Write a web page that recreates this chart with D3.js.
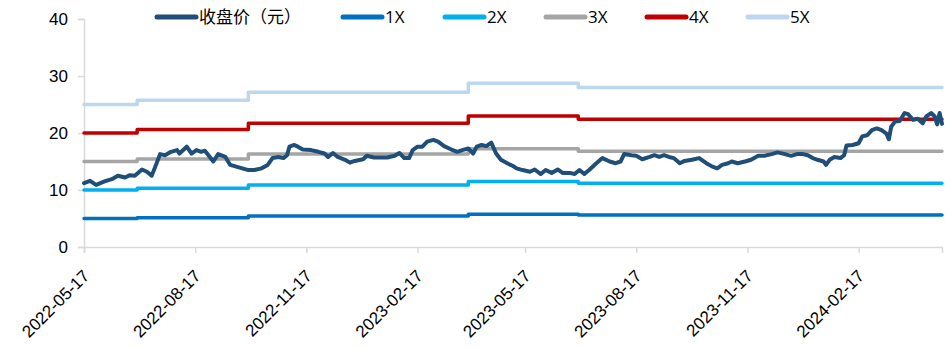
<!DOCTYPE html>
<html>
<head>
<meta charset="utf-8">
<script src="https://d3js.org/d3.v7.min.js"></script>
<style>
  body { margin: 0; background: #fff; }
  svg { display: block; font-family: "Open Sans", "Noto Sans CJK SC", sans-serif; }
</style>
</head>
<body>
<div id="chart"></div>
<script>
// closing price (yuan)
const priceDates = [
  "2022-05-17","2022-05-22","2022-05-27","2022-06-03","2022-06-09","2022-06-14","2022-06-20","2022-06-24","2022-06-28",
  "2022-07-04","2022-07-08","2022-07-12","2022-07-15","2022-07-19","2022-07-23","2022-07-28","2022-08-02","2022-08-04",
  "2022-08-10","2022-08-14","2022-08-18","2022-08-22","2022-08-25","2022-08-28","2022-09-01","2022-09-05","2022-09-11",
  "2022-09-15","2022-09-20","2022-09-25","2022-09-30","2022-10-05","2022-10-11","2022-10-16","2022-10-20","2022-10-25",
  "2022-10-29","2022-11-01","2022-11-03","2022-11-07","2022-11-10","2022-11-14","2022-11-21","2022-11-27","2022-12-02",
  "2022-12-05","2022-12-09","2022-12-13","2022-12-19","2022-12-23","2022-12-27","2023-01-03","2023-01-06","2023-01-12",
  "2023-01-18","2023-01-23","2023-01-29","2023-02-02","2023-02-06","2023-02-10","2023-02-13","2023-02-17","2023-02-21",
  "2023-02-25","2023-03-02","2023-03-06","2023-03-11","2023-03-17","2023-03-22","2023-03-26","2023-03-31","2023-04-04",
  "2023-04-07","2023-04-11","2023-04-15","2023-04-19","2023-04-23","2023-04-27","2023-05-03","2023-05-07","2023-05-10",
  "2023-05-15","2023-05-21","2023-05-25","2023-05-30","2023-06-03","2023-06-08","2023-06-13","2023-06-17","2023-06-23",
  "2023-06-27","2023-07-01","2023-07-05","2023-07-09","2023-07-15","2023-07-20","2023-07-26","2023-07-31","2023-08-04",
  "2023-08-07","2023-08-13","2023-08-17","2023-08-22","2023-08-28","2023-09-01","2023-09-05","2023-09-09","2023-09-13",
  "2023-09-17","2023-09-22","2023-09-26","2023-10-02","2023-10-08","2023-10-14","2023-10-19","2023-10-23","2023-10-27",
  "2023-11-01","2023-11-04","2023-11-09","2023-11-15","2023-11-20","2023-11-26","2023-12-01","2023-12-07","2023-12-12",
  "2023-12-18","2023-12-23","2023-12-28","2024-01-02","2024-01-06","2024-01-10","2024-01-14","2024-01-19","2024-01-21",
  "2024-01-24","2024-01-28","2024-02-02","2024-02-05","2024-02-07","2024-02-12","2024-02-17","2024-02-20","2024-02-24",
  "2024-02-28","2024-03-03","2024-03-07","2024-03-11","2024-03-13","2024-03-15","2024-03-18","2024-03-22","2024-03-26",
  "2024-03-29","2024-04-02","2024-04-06","2024-04-10","2024-04-13","2024-04-17","2024-04-20","2024-04-22","2024-04-24",
  "2024-04-26"
];
const priceValues = [
  11.2,11.6,10.9,11.5,11.9,12.5,12.2,12.6,12.5,
  13.6,13.2,12.5,14.1,16.3,16.1,16.7,17.0,16.4,
  17.6,16.4,17.0,16.7,16.9,16.1,15.0,16.3,15.8,
  14.4,14.1,13.8,13.5,13.5,13.8,14.4,15.6,15.8,
  15.6,16.1,17.6,17.9,17.6,17.1,17.0,16.7,16.4,
  15.8,16.5,15.8,15.3,14.8,15.1,15.4,16.0,15.7,
  15.7,15.7,16.0,16.5,15.6,15.6,17.0,17.6,17.6,
  18.5,18.8,18.5,17.7,17.1,16.7,17.0,17.3,16.4,
  17.6,17.9,17.7,18.3,16.4,15.3,14.6,14.2,13.8,
  13.5,13.2,13.6,12.8,13.5,13.0,13.6,13.0,13.0,
  12.8,13.5,12.8,13.5,14.7,15.6,15.0,14.7,15.0,
  16.3,16.1,16.0,15.4,15.8,16.1,15.8,16.1,15.8,
  15.6,14.7,15.1,15.3,15.6,14.7,14.1,13.8,14.4,
  14.7,15.0,14.7,15.0,15.3,16.0,16.0,16.3,16.6,
  16.3,16.0,16.3,16.3,16.1,15.6,15.3,15.0,14.4,
  15.3,15.8,15.6,16.1,17.8,17.9,18.2,19.4,19.6,
  20.5,20.8,20.5,19.9,18.9,21.1,22.0,22.1,23.5,
  23.3,22.3,22.5,21.7,22.9,23.5,22.9,21.5,23.5,
  21.6
];

// PE band lines: each value holds from its date until the next date
const bandDates = ["2022-05-17","2022-06-30","2022-09-30","2023-03-31","2023-06-30","2024-04-26"];
const band1X = [5.0, 5.15, 5.43, 5.75, 5.6, 5.6];
const band2X = [10.0, 10.3, 10.86, 11.5, 11.2, 11.2];
const band3X = [15.0, 15.45, 16.3, 17.25, 16.8, 16.8];
const band4X = [20.0, 20.6, 21.7, 23.0, 22.4, 22.4];
const band5X = [25.0, 25.75, 27.15, 28.75, 28.0, 28.0];

const seriesNames = ["收盘价（元）", "1X", "2X", "3X", "4X", "5X"];
const seriesColors = ["#1F4E79", "#0070C0", "#00B0F0", "#A5A5A5", "#C00000", "#BDD7EE"];

const xTickLabels = ["2022-05-17","2022-08-17","2022-11-17","2023-02-17","2023-05-17","2023-08-17","2023-11-17","2024-02-17"];
const yTicks = [0, 10, 20, 30, 40];

const width = 946, height = 349;
const margin = {top: 19, right: 4, bottom: 102, left: 84};
const parse = d3.timeParse("%Y-%m-%d");

const svg = d3.select("#chart").append("svg")
  .attr("width", width)
  .attr("height", height);

const x = d3.scaleTime()
  .domain([parse("2022-05-17"), parse("2024-04-26")])
  .range([margin.left, width - margin.right]);

const y = d3.scaleLinear()
  .domain([0, 40])
  .range([height - margin.bottom, margin.top]);

// axes
const yAxis = svg.append("g")
  .attr("transform", "translate(" + margin.left + ",0)")
  .call(d3.axisLeft(y).tickValues(yTicks).tickSize(6).tickPadding(10));

const xAxis = svg.append("g")
  .attr("transform", "translate(0," + (height - margin.bottom) + ")")
  .call(d3.axisBottom(x).tickValues(xTickLabels.map(parse)).tickSize(6).tickFormat(""));

svg.selectAll(".domain, .tick line")
  .attr("stroke", "#D9D9D9")
  .attr("stroke-width", 1.5);

yAxis.selectAll("text")
  .attr("fill", "#000")
  .style("font-size", "17px");

xAxis.selectAll(".tick")
  .append("text")
  .attr("fill", "#000")
  .attr("text-anchor", "end")
  .attr("transform", "translate(6,30) rotate(-45)")
  .style("font-size", "17px")
  .text((d, i) => xTickLabels[i]);

// band lines
const bands = [band1X, band2X, band3X, band4X, band5X];
const bandLine = d3.line()
  .x(d => x(d[0]))
  .y(d => y(d[1]))
  .curve(d3.curveStepAfter);

bands.forEach(function(vals, i) {
  const pts = bandDates.map((d, j) => [parse(d), vals[j]]);
  svg.append("path")
    .datum(pts)
    .attr("fill", "none")
    .attr("stroke", seriesColors[i + 1])
    .attr("stroke-width", 3.5)
    .attr("stroke-linecap", "round")
    .attr("stroke-linejoin", "round")
    .attr("d", bandLine);
});

// closing price
const priceLine = d3.line()
  .x(d => x(d[0]))
  .y(d => y(d[1]));

svg.append("path")
  .datum(priceDates.map((d, i) => [parse(d), priceValues[i]]))
  .attr("fill", "none")
  .attr("stroke", seriesColors[0])
  .attr("stroke-width", 4)
  .attr("stroke-linejoin", "round")
  .attr("stroke-linecap", "round")
  .attr("d", priceLine);

// legend
const legendX = [157, 343, 445, 546, 647, 748];
const legend = svg.append("g").selectAll("g")
  .data(seriesNames)
  .enter()
  .append("g")
  .attr("transform", (d, i) => "translate(" + legendX[i] + ",17)");

legend.append("line")
  .attr("x1", 0).attr("x2", 39)
  .attr("stroke", (d, i) => seriesColors[i])
  .attr("stroke-width", 5)
  .attr("stroke-linecap", "round");

legend.append("text")
  .attr("x", 42)
  .attr("dy", "0.35em")
  .style("font-size", "17px")
  .attr("fill", "#000")
  .text(d => d);
</script>
</body>
</html>
